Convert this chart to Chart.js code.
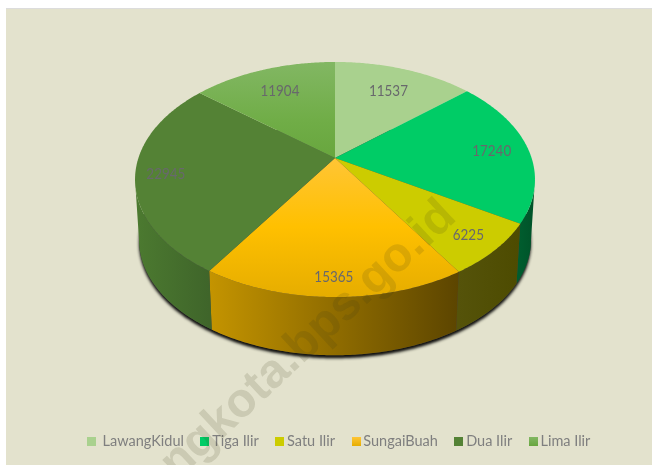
<!DOCTYPE html>
<html><head><meta charset="utf-8">
<style>html,body{margin:0;padding:0;background:#fff}canvas{display:block}</style>
<script src="https://cdn.jsdelivr.net/npm/chart.js@4"></script></head>
<body><canvas id="c" width="657" height="465"></canvas>
<script>
const categories = [" LawangKidul", "Tiga Ilir", "Satu Ilir", "SungaiBuah", "Dua Ilir", "Lima Ilir"];
const values = [11537, 17240, 6225, 15365, 22945, 11904];
const labelRadii = [0.74, 0.81, 0.85, 0.87, 0.85, 0.74];
const topColors = [
  ["#a9d18e", "#a9d18e", "#a9d18e"],
  ["#00cc66", "#00cc66", "#00cc66"],
  ["#cccc00", "#cccc00", "#cccc00"],
  ["#ffc535", "#ffc000", "#e6ad00"],
  ["#548235", "#548235", "#548235"],
  ["#82b763", "#70ad47", "#68a63e"]
];
const wallColors = [
  ["#7f9d6a", "#7f9d6a"],
  ["#005c2e", "#005228"],
  ["#55530a", "#4d4b00"],
  ["#c49400", "#5c4500"],
  ["#4c7a30", "#3f652a"],
  ["#4f7d33", "#4f7d33"]
];
const watermark = "palembangkota.bps.go.id";

// perspective view of the pie disc
const view = { cx: 335, cy: 158, ax: 196.6, ay: 113.6, k: 0.183, depth: 61, bottomScale: 0.98 };
function project(a, r, bottom) {
  const u = Math.cos(a) * r, v = Math.sin(a) * r, w = 1 - view.k * v;
  const s = bottom ? view.bottomScale : 1;
  return [view.cx + view.ax * u / w * s, view.cy + (bottom ? view.depth : 0) + view.ay * v / w * s];
}
function arcPath(ctx, a0, a1, bottom, first) {
  const n = Math.max(2, Math.ceil(Math.abs(a1 - a0) / 0.01));
  for (let i = 0; i <= n; i++) {
    const p = project(a0 + (a1 - a0) * i / n, 1, bottom);
    if (i === 0 && first) ctx.moveTo(p[0], p[1]); else ctx.lineTo(p[0], p[1]);
  }
}
const pie3d = {
  id: "pie3d",
  beforeDraw(chart) {
    const c = chart.ctx;
    c.save();
    c.fillStyle = "#e3e2cd";
    c.fillRect(6, 9, 646, 456);
    c.fillStyle = "#dcdcdc";
    c.fillRect(6, 8, 646, 1);
    c.restore();
  },
  beforeDatasetsDraw(chart) {
    const c = chart.ctx, arcs = chart.getDatasetMeta(0).data;
    const tan = Math.asin(view.k), lo = tan, hi = Math.PI - tan;
    c.save();
    // soft ground shadow of the bottom rim
    c.save();
    c.shadowColor = "rgba(0,0,0,0.95)"; c.shadowBlur = 3; c.shadowOffsetY = 3;
    c.fillStyle = "#444";
    c.beginPath(); arcPath(c, 0, Math.PI * 2, true, true); c.closePath(); c.fill();
    c.restore();
    // outer walls
    arcs.forEach((arc, i) => {
      const a0 = Math.max(arc.startAngle, lo), a1 = Math.min(arc.endAngle, hi);
      const b0 = Math.max(arc.startAngle - Math.PI * 2, lo), b1 = Math.min(arc.endAngle - Math.PI * 2, hi);
      [[a0, a1], [b0, b1]].forEach(([s, e]) => {
        if (e <= s) return;
        const ps = project(s, 1, false), pe = project(e, 1, false);
        const g = c.createLinearGradient(Math.min(ps[0], pe[0]), 0, Math.max(ps[0], pe[0]), 0);
        g.addColorStop(0, wallColors[i][0]); g.addColorStop(1, wallColors[i][1]);
        c.fillStyle = g;
        c.beginPath(); arcPath(c, s, e, false, true); arcPath(c, e, s, true, false); c.closePath(); c.fill();
      });
    });
    // top face
    arcs.forEach((arc, i) => {
      const g = c.createLinearGradient(0, view.cy - 96, 0, view.cy + 139);
      if (i === 3) {
        g.addColorStop(0.41, topColors[i][0]); g.addColorStop(0.7, topColors[i][1]); g.addColorStop(1, topColors[i][2]);
      } else {
        g.addColorStop(0, topColors[i][0]); g.addColorStop(0.25, topColors[i][1]); g.addColorStop(0.41, topColors[i][2]);
      }
      c.fillStyle = g;
      c.beginPath(); c.moveTo(view.cx, view.cy);
      arcPath(c, arc.startAngle, arc.endAngle, false, false);
      c.closePath(); c.fill();
    });
    // value labels
    c.font = '16px Lato, sans-serif';
    c.textAlign = "center"; c.textBaseline = "middle";
    c.fillStyle = "#68686c";
    arcs.forEach((arc, i) => {
      const p = project((arc.startAngle + arc.endAngle) / 2, labelRadii[i], false);
      c.save();
      c.translate(p[0], p[1] + 1);
      c.scale(0.84, 1);
      c.fillText(String(values[i]), 0, 0);
      c.restore();
    });
    c.restore();
    return false;
  },
  afterDraw(chart) {
    const c = chart.ctx;
    c.save();
    c.beginPath(); c.rect(6, 9, 646, 456); c.clip();
    c.translate(458, 219);
    c.rotate(-43 * Math.PI / 180);
    c.font = 'bold 48px "Liberation Sans", sans-serif';
    c.textAlign = "right"; c.textBaseline = "alphabetic";
    c.fillStyle = "rgba(60,55,20,0.14)";
    c.fillText(watermark, 0, 0);
    c.restore();
  }
};
function swatch(cols) {
  const s = document.createElement("canvas"); s.width = 9; s.height = 9;
  const x = s.getContext("2d"), g = x.createLinearGradient(0, 0, 0, 9);
  g.addColorStop(0, cols[0]); g.addColorStop(1, cols[2]);
  x.fillStyle = g; x.fillRect(0, 0, 9, 9);
  return s;
}
new Chart(document.getElementById("c"), {
  type: "pie",
  data: { labels: categories, datasets: [{ data: values, backgroundColor: topColors.map(t => t[1]), borderWidth: 0 }] },
  options: {
    responsive: false, animation: false,
    layout: { padding: { left: 25, bottom: 6 } },
    plugins: {
      tooltip: { enabled: false },
      legend: {
        position: "bottom",
        labels: {
          font: { size: 14.5, family: 'Lato, sans-serif' },
          color: "#7f7f7f", usePointStyle: true, pointStyleWidth: 0.01, padding: 21,
          generateLabels() {
            return categories.map((t, i) => ({ text: t, pointStyle: swatch(topColors[i]), hidden: false, index: i, lineWidth: 0, fontColor: "#7f7f7f" }));
          }
        }
      }
    }
  },
  plugins: [pie3d]
});
</script></body></html>
